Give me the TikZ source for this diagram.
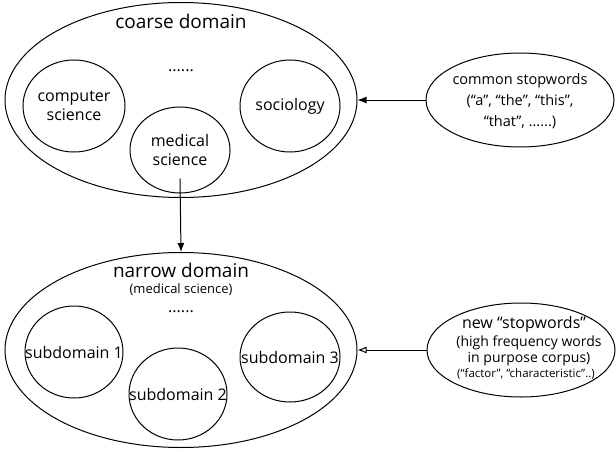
\documentclass[tikz,border=0pt]{standalone}
\usepackage{fontspec}
\setmainfont{Open Sans}
\usetikzlibrary{shapes.geometric,arrows.meta}

\begin{document}
\begin{tikzpicture}[x=1pt, y=-1pt, line width=1pt,
        font=\fontsize{16}{19}\selectfont,
        >={Latex[length=9pt,width=7pt]},
        dom/.style={draw, ellipse, inner sep=0}]
        \useasboundingbox (0,0) rectangle (616,452);
        % coarse domain
        \node[dom, minimum width=352pt, minimum height=195pt] (coarse) at (181,100) {};
        \node[font=\fontsize{19}{22}\selectfont] (coarsetitle) at (181,21) {coarse domain};
        \node (coarsedots) at (181,71) {......};
        \node[dom, minimum width=102pt, minimum height=92pt,
            label={[align=center]center:computer\\science}] (cs) at (74,106) {};
        \node[dom, minimum width=100pt, minimum height=86pt,
            label={[align=center]center:medical\\science}] (med) at (180,150) {};
        \node[dom, minimum width=100pt, minimum height=92pt,
            label={center:sociology}] (soc) at (290,106) {};
        % narrow domain
        \node[dom, minimum width=352pt, minimum height=195pt] (narrow) at (181,350) {};
        \node[font=\fontsize{19}{22}\selectfont] (narrowtitle) at (181,270) {narrow domain};
        \node[font=\fontsize{13}{15}\selectfont] (narrowsub) at (181,290) {(medical science)};
        \node (narrowdots) at (181,312) {......};
        \node[dom, minimum width=98pt, minimum height=92pt,
            label={center:subdomain 1}] (sub1) at (74,352) {};
        \node[dom, minimum width=98pt, minimum height=92pt,
            label={center:subdomain 2}] (sub2) at (178,394) {};
        \node[dom, minimum width=100pt, minimum height=90pt,
            label={center:subdomain 3}] (sub3) at (290,357) {};
        % stopwords
        \node[dom, minimum width=188pt, minimum height=94pt] (common) at (520,100) {};
        \node[align=center, font=\fontsize{14.5}{21}\selectfont] (commontext) at (520,101)
            {common stopwords\\(``a'', ``the'', ``this'',\\``that'', ......)};
        \node[dom, minimum width=188pt, minimum height=94pt] (newsw) at (521,350) {};
        \node[font=\fontsize{16}{19}\selectfont] (newtitle) at (524,324) {new ``stopwords''};
        \node[align=center, font=\fontsize{14}{16}\selectfont] (newtext) at (529,351)
            {(high frequency words\\in purpose corpus)};
        \node[font=\fontsize{11.5}{14}\selectfont] (newex) at (526,374) {(``factor'', ``characteristic''..)};
        \draw[->] ([yshift=15pt]med.south) -- (narrow.north);
        \draw[->] (common) -- (coarse.east);
        \draw[-{Latex[open,length=9pt,width=7pt]}] (newsw) -- (narrow.east);
\end{tikzpicture}
\end{document}
